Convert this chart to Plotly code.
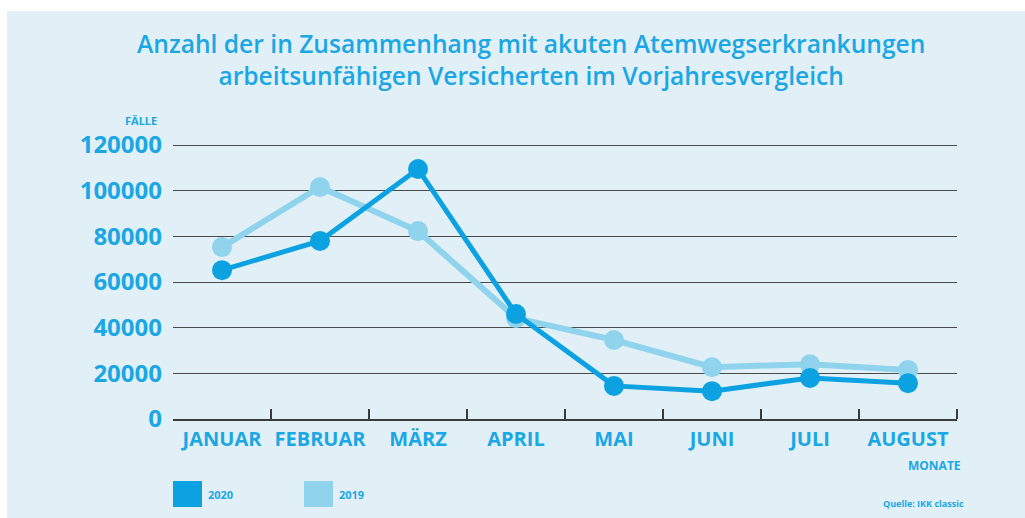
import plotly.graph_objects as go

months = ["JANUAR", "FEBRUAR", "MÄRZ", "APRIL", "MAI", "JUNI", "JULI", "AUGUST"]
values_2020 = [65200, 78000, 109500, 46000, 14500, 12200, 18000, 15700]
values_2019 = [75300, 101600, 82300, 44200, 34600, 22700, 24000, 21500]
y_ticks = [0, 20000, 40000, 60000, 80000, 100000, 120000]
series_names = ["2020", "2019"]

C2020 = "#0ca2e2"
C2019 = "#8fd3ec"
TXT = "#1ba6e4"
BG = "#e1f0f6"
FONT = "Open Sans"

W, H = 1025, 518
L, R, T, B = 173, 957, 141, 419  # plot area in pixels
TOP_GRID_PX = 145
Y_MAX = y_ticks[-1] * (B - T) / (B - TOP_GRID_PX)


def px(x):
    return (x - L) / (R - L)


def py(y):
    return (B - y) / (B - T)


xs = list(range(len(months)))

fig = go.Figure()
fig.add_trace(go.Scatter(
    x=xs, y=values_2019, mode="lines+markers", name=series_names[1],
    line=dict(color=C2019, width=6), marker=dict(color=C2019, size=20),
    cliponaxis=False, showlegend=False))
fig.add_trace(go.Scatter(
    x=xs, y=values_2020, mode="lines+markers", name=series_names[0],
    line=dict(color=C2020, width=5), marker=dict(color=C2020, size=20),
    cliponaxis=False, showlegend=False))

shapes = [
    dict(type="rect", xref="paper", yref="paper", layer="below",
         x0=px(7), x1=px(W + 20), y0=py(H + 20), y1=py(11),
         fillcolor=BG, line=dict(width=0)),
    dict(type="rect", xref="paper", yref="paper",
         x0=px(173), x1=px(202), y0=py(507), y1=py(481),
         fillcolor=C2020, line=dict(width=0)),
    dict(type="rect", xref="paper", yref="paper",
         x0=px(304), x1=px(333), y0=py(507), y1=py(481),
         fillcolor=C2019, line=dict(width=0)),
]

annotations = [
    dict(text="Anzahl der in Zusammenhang mit akuten Atemwegserkrankungen<br>arbeitsunfähigen Versicherten im Vorjahresvergleich",
         xref="paper", yref="paper", x=px(531), y=py(59), xanchor="center", yanchor="middle",
         showarrow=False, font=dict(family=FONT, size=24.6, color=TXT, weight=600), align="center"),
    dict(text="<b>FÄLLE</b>", xref="paper", yref="paper", x=px(159), y=py(120),
         xanchor="right", yanchor="middle", showarrow=False,
         font=dict(family=FONT, size=11, color=TXT)),
    dict(text="<b>MONATE</b>", xref="paper", yref="paper", x=px(963), y=py(465),
         xanchor="right", yanchor="middle", showarrow=False,
         font=dict(family=FONT, size=12, color=TXT)),
    dict(text="<b>2020</b>", xref="paper", yref="paper", x=px(206), y=py(494),
         xanchor="left", yanchor="middle", showarrow=False,
         font=dict(family=FONT, size=11, color=TXT)),
    dict(text="<b>2019</b>", xref="paper", yref="paper", x=px(337), y=py(494),
         xanchor="left", yanchor="middle", showarrow=False,
         font=dict(family=FONT, size=11, color=TXT)),
    dict(text="<b>Quelle: IKK classic</b>", xref="paper", yref="paper", x=px(966), y=py(503),
         xanchor="right", yanchor="middle", showarrow=False,
         font=dict(family=FONT, size=9, color=TXT)),
]

fig.update_layout(
    width=W, height=H,
    margin=dict(l=L, r=W - R, t=T, b=H - B, pad=0),
    paper_bgcolor="white", plot_bgcolor="rgba(0,0,0,0)",
    shapes=shapes, annotations=annotations,
    font=dict(family=FONT, color=TXT),
    xaxis=dict(
        range=[-0.5, len(months) - 0.5], tickmode="array", tickvals=xs, ticktext=months,
        ticks="", showgrid=False, zeroline=False,
        showline=True, linecolor="#3c3c3c", linewidth=1.5,
        tickfont=dict(family=FONT, size=20, color=TXT, weight="bold"),
        ticklabelstandoff=1,
        minor=dict(tickvals=[i + 0.5 for i in xs], ticks="inside", ticklen=10,
                   tickwidth=1.5, tickcolor="#3c3c3c", showgrid=False),
        fixedrange=True,
    ),
    yaxis=dict(
        range=[0, Y_MAX], tickmode="array", tickvals=y_ticks,
        ticktext=[str(v) for v in y_ticks], ticks="",
        showgrid=True, gridcolor="#4a4a4a", gridwidth=1.3, zeroline=False,
        tickfont=dict(family=FONT, size=24, color=TXT, weight="bold"),
        ticklabelstandoff=10, fixedrange=True,
    ),
)

fig.write_html("out.html")
